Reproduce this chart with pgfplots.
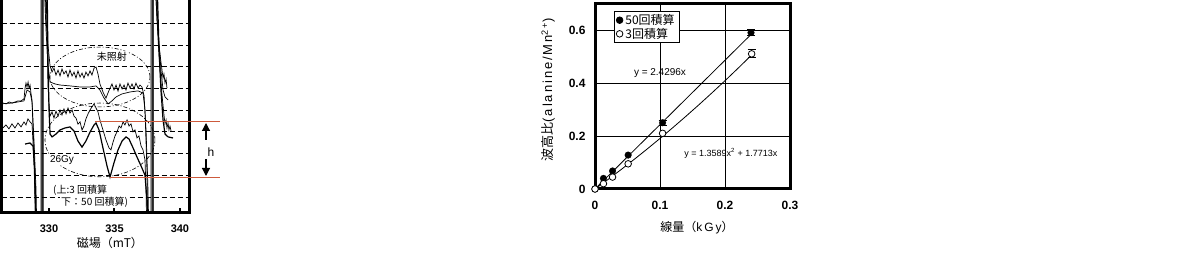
\documentclass[border=0pt]{standalone}
\usepackage{fontspec}
\setmainfont{Liberation Sans}
\newfontfamily\jp{Noto Sans CJK JP}
\usepackage{pgfplots}
\pgfplotsset{compat=1.18}
\usetikzlibrary{arrows.meta}
\definecolor{hred}{RGB}{205,90,60}
\pgfplotsset{dotlegend/.style={legend image code/.code={\draw[##1] plot coordinates {(0pt,0pt)};}}}

\begin{document}
\begin{tikzpicture}
\useasboundingbox (0pt,0pt) rectangle (1200pt,256pt);
\clip (0pt,0pt) rectangle (1200pt,256pt);

% ---------------- left panel: ESR spectra ----------------
\begin{axis}[
  at={(1.5pt,43.5pt)}, anchor=south west, scale only axis,
  width=188pt, height=214.5pt,
  xmin=326.37, xmax=340.73, ymin=0.286, ymax=10.17,
  axis line style={line width=3pt},
  xtick={330,335,340}, xtick pos=left, tick align=inside,
  major tick length=4pt,
  xtick style={line width=2pt,black},
  ytick={1,2,3,4,5,6,7,8,9}, yticklabels={}, ytick style={draw=none},
  ymajorgrids,
  major grid style={black, line width=0.8pt, dash pattern=on 5pt off 3pt},
  /pgf/number format/assume math mode=true,
  xticklabel style={font=\bfseries\fontsize{11}{13}\selectfont, yshift=-9pt},
  xlabel={{\jp 磁場（mT）}},
  xlabel style={at={(axis description cs:0.577,-0.142)}, anchor=center, font=\fontsize{12}{14}\selectfont},
]
% unirradiated, 3 scans (noisy)
\addplot[black, line width=0.7pt] coordinates {
(326.26,5.29) (326.49,5.33) (326.72,5.29) (326.95,5.38) (327.18,5.33) (327.41,5.38) (327.64,5.43) (327.86,5.43) (328.09,5.52) (328.17,6.02) (328.24,6.25) (328.32,6.07) (328.40,6.30) (328.47,6.02) (328.55,6.16) (328.62,5.79) (328.70,5.47) (328.85,3.63) (329.01,1.32) (329.08,-1) (329.47,-1) (329.47,11) (329.70,11) (329.77,9.16) (329.92,8.00) (330.08,7.04) (330.23,6.76) (330.38,6.94) (330.53,6.62) (330.69,6.85) (330.84,6.58) (330.99,6.90) (331.14,6.67) (331.30,6.81) (331.45,6.53) (331.60,6.85) (331.76,6.58) (331.91,6.76) (332.06,6.48) (332.21,6.81) (332.37,6.53) (332.52,6.71) (332.67,6.48) (332.82,6.76) (332.98,6.58) (333.13,6.81) (333.28,6.62) (333.44,6.94) (333.59,6.99) (333.74,6.67) (333.89,6.21) (334.12,5.84) (334.35,5.56) (334.50,5.79) (334.66,6.02) (334.81,6.21) (334.96,5.93) (335.12,6.16) (335.27,5.88) (335.42,6.21) (335.58,5.98) (335.73,6.16) (335.88,5.93) (336.03,6.25) (336.19,6.02) (336.34,6.21) (336.49,5.98) (336.64,6.25) (336.80,6.02) (336.95,6.16) (337.10,6.07) (337.26,5.66) (337.41,4.09) (337.56,1.32) (337.64,-1) (337.87,-1) (337.87,11) (338.10,11) (338.25,9.16) (338.40,8.00) (338.55,7.22) (338.63,6.85) (338.71,6.48) (338.78,6.67) (338.86,6.25) (338.94,6.44) (339.01,6.02)};
% unirradiated, 50 scans (smooth)
\addplot[black, line width=0.7pt] coordinates {
(326.26,5.29) (327.17,5.33) (328.09,5.43) (328.32,5.93) (328.55,5.84) (328.70,5.38) (328.85,3.17) (329.01,-1) (329.39,-1) (329.39,11) (329.62,11) (329.77,8.70) (329.92,7.09) (330.08,6.30) (330.46,6.21) (330.84,6.16) (331.60,6.12) (332.37,6.07) (333.13,6.07) (333.59,6.12) (333.89,5.93) (334.20,5.56) (334.51,5.29) (334.81,5.43) (335.12,5.61) (335.58,5.75) (336.19,5.84) (336.80,5.89) (337.18,5.79) (337.33,5.01) (337.48,2.24) (337.56,-1) (337.94,-1) (337.94,11) (338.17,11) (338.33,8.70) (338.55,6.85) (338.71,5.93) (338.86,5.61) (339.09,5.47)};
% 26 Gy, 3 scans (noisy)
\addplot[black, line width=0.7pt] coordinates {
(326.48,4.18) (326.71,4.32) (326.94,4.14) (327.17,4.37) (327.40,4.18) (327.63,4.41) (327.86,4.23) (328.09,4.46) (328.24,4.32) (328.39,4.60) (328.55,4.46) (328.70,4.37) (328.85,2.71) (329.01,-1) (329.46,-1) (329.46,11) (329.77,11) (329.85,8.24) (329.92,6.16) (330.00,5.24) (330.08,4.73) (330.23,4.92) (330.38,4.64) (330.53,4.96) (330.69,4.73) (330.84,5.01) (330.99,4.78) (331.14,5.06) (331.30,4.83) (331.45,5.10) (331.60,4.87) (331.76,5.01) (331.91,4.73) (332.06,4.64) (332.21,4.36) (332.37,4.46) (332.52,4.09) (332.67,4.27) (332.82,4.60) (332.98,4.83) (333.13,5.01) (333.28,5.15) (333.44,5.29) (333.59,5.10) (333.74,4.92) (333.89,4.55) (334.12,4.09) (334.35,3.63) (334.58,3.26) (334.73,3.17) (334.89,3.53) (335.04,3.81) (335.19,4.00) (335.35,4.27) (335.50,4.18) (335.65,4.46) (335.80,4.32) (335.96,4.55) (336.11,4.27) (336.26,4.37) (336.42,4.00) (336.57,4.09) (336.72,3.72) (336.87,3.81) (337.03,3.35) (337.18,3.17) (337.33,2.71) (337.41,1.32) (337.48,-1) (337.79,-1) (337.79,11) (338.10,11) (338.33,8.24) (338.48,6.85) (338.63,5.70) (338.78,4.78) (338.86,4.37) (338.94,4.55) (339.01,4.18) (339.09,4.41) (339.16,4.09) (339.24,4.27) (339.32,4.04)};
% 26 Gy, 50 scans (smooth, thicker)
\addplot[black, line width=1.2pt] coordinates {
(328.17,3.44) (328.55,3.49) (328.78,3.35) (328.93,2.01) (329.01,-1) (329.54,-1) (329.54,11) (329.85,11) (329.92,7.31) (330.00,5.01) (330.08,3.90) (330.23,3.77) (330.53,3.90) (330.84,4.09) (331.22,4.18) (331.60,4.23) (331.91,4.04) (332.21,3.58) (332.52,3.30) (332.82,3.58) (333.13,3.99) (333.44,4.32) (333.59,4.41) (333.82,4.09) (334.12,3.26) (334.43,2.43) (334.66,1.92) (334.96,2.57) (335.27,3.17) (335.58,3.58) (335.88,3.77) (336.11,3.67) (336.42,3.26) (336.72,2.84) (337.03,2.43) (337.33,2.01) (337.48,0.86) (337.56,-1) (337.94,-1) (337.94,11) (338.25,11) (338.40,7.78) (338.55,5.93) (338.71,4.55) (338.86,3.90) (339.09,3.77) (339.47,3.72)};
% dash-dot group outlines
\draw[black, line width=0.6pt, dash pattern=on 4pt off 2pt on 1pt off 2pt] (axis cs:333.89,6.53) ellipse [x radius=3.82, y radius=1.38];
\draw[black, line width=0.6pt, dash pattern=on 4pt off 2pt on 1pt off 2pt] (axis cs:333.89,3.63) ellipse [x radius=4.20, y radius=1.70];
\node[fill=white, inner sep=1pt, font=\jp\fontsize{10}{12}\selectfont] at (axis cs:334.81,7.45) {未照射};
\node[fill=white, inner sep=1pt, font=\fontsize{10}{12}\selectfont] at (axis cs:330.99,2.71) {26Gy};
\node[anchor=west, fill=white, inner sep=1pt, font=\jp\fontsize{10}{12}\selectfont] at (axis cs:330.23,1.32) {(上:3 回積算};
\node[anchor=west, fill=white, inner sep=1pt, font=\jp\fontsize{10}{12}\selectfont] at (axis cs:330.84,0.77) {下：50 回積算)};
\end{axis}

% peak-to-peak height h
\draw[hred, line width=1pt] (95pt,134pt) -- (220pt,134pt);
\draw[hred, line width=1pt] (110pt,78.5pt) -- (220pt,78.5pt);
\draw[black, line width=1.2pt, -{Triangle[width=8pt,length=8pt]}] (206pt,116pt) -- (206pt,133pt);
\draw[black, line width=1.2pt, -{Triangle[width=8pt,length=8pt]}] (206pt,97pt) -- (206pt,80pt);
\node[font=\fontsize{12}{14}\selectfont] at (211pt,104pt) {h};

% ---------------- right panel: dose response ----------------
\begin{axis}[
  at={(595pt,67pt)}, anchor=south west, scale only axis,
  width=195pt, height=185.5pt,
  xmin=0, xmax=0.3, ymin=0, ymax=0.7,
  axis line style={line width=3pt},
  xtick={0,0.1,0.2,0.3}, ytick={0,0.2,0.4,0.6},
  major tick length=0pt,
  grid=major, major grid style={black, line width=0.8pt, solid},
  /pgf/number format/assume math mode=true,
  ticklabel style={font=\bfseries\fontsize{12}{14}\selectfont},
  xticklabel style={yshift=-9pt}, yticklabel style={xshift=-6pt},
  xlabel={{\jp 線量（}k\,G\,y{\jp ）}},
  xlabel style={at={(axis description cs:0.523,-0.21)}, anchor=center, font=\fontsize{12}{14}\selectfont},
  ylabel={{\jp 波高比}{\addfontfeatures{LetterSpace=15}(alanine/Mn\textsuperscript{2+})}},
  ylabel style={at={(axis description cs:-0.241,0.534)}, anchor=center, font=\fontsize{13}{15}\selectfont},
  legend style={at={(0.097,0.957)}, anchor=north west, draw=black, line width=0.8pt, fill=white,
    font=\jp\fontsize{12}{14}\selectfont, inner xsep=2pt, inner ysep=1.5pt, row sep=0pt,
    nodes={inner xsep=2.5pt, inner ysep=1pt}},
  legend cell align=left,
]
% fit lines
\addplot[black, line width=0.8pt, forget plot] coordinates {(0,0) (0.24,0.5831)};
\addplot[black, line width=0.8pt, forget plot] coordinates {
(0,0) (0.02,0.03597) (0.04,0.07303) (0.06,0.11117) (0.08,0.15040) (0.10,0.19072) (0.12,0.23213) (0.14,0.27462) (0.16,0.31820) (0.18,0.36286) (0.20,0.40862) (0.22,0.45546) (0.24,0.50338)};
% error bars
\addplot[only marks, mark=none, forget plot, error bars/.cd, y dir=both, y explicit,
  error bar style={draw=black, solid, line width=0.8pt},
  error mark options={rotate=90, mark size=4pt, line width=0.8pt, draw=black}]
  coordinates {(0.104,0.25) +- (0,0.01) (0.24,0.59) +- (0,0.012) (0.241,0.51) +- (0,0.015)};
% data
\addplot[only marks, mark=*, mark size=3.3pt, mark options={fill=black, draw=black, solid}, dotlegend]
  coordinates {(0,0) (0.013,0.04) (0.027,0.068) (0.051,0.128) (0.104,0.25) (0.24,0.59)};
\addlegendentry{50回積算}
\addplot[only marks, mark=*, mark size=3.3pt, mark options={fill=white, draw=black, solid, line width=0.8pt}, dotlegend]
  coordinates {(0,0) (0.013,0.02) (0.027,0.045) (0.051,0.095) (0.104,0.21) (0.241,0.51)};
\addlegendentry{3回積算}
\node[font=\fontsize{10}{12}\selectfont] at (axis cs:0.1,0.436) {y = 2.4296x};
\node[font=\fontsize{9}{11}\selectfont] at (axis cs:0.209,0.134) {y = 1.3589x\textsuperscript{2} + 1.7713x};
\end{axis}
\end{tikzpicture}
\end{document}
